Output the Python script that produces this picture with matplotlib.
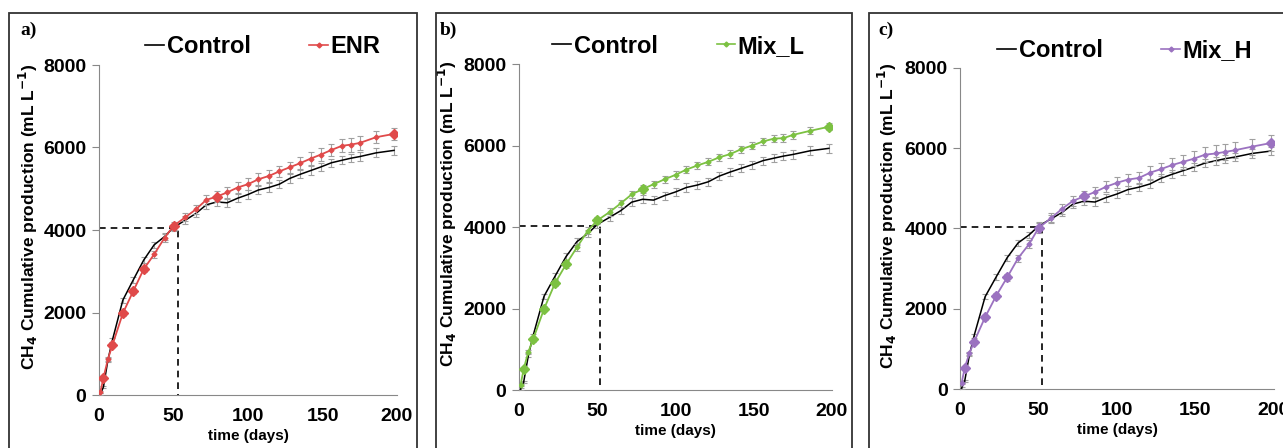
import matplotlib.pyplot as plt
from matplotlib.lines import Line2D
from matplotlib.patches import Rectangle

plt.rcParams["font.family"] = ["Liberation Sans", "DejaVu Sans"]
plt.rcParams["font.weight"] = "bold"

# sampling days (same for all series)
days = [1, 3, 6, 9, 16, 23, 30, 37, 44, 50, 58, 65, 72, 79, 86, 93, 100, 107,
        114, 121, 128, 135, 142, 149, 156, 163, 169, 175, 186, 198]

control = [20, 200, 850, 1330, 2300, 2790, 3270, 3640, 3840, 4060, 4240, 4400,
           4610, 4680, 4660, 4770, 4860, 4970, 5030, 5110, 5250, 5350, 5440,
           5530, 5630, 5690, 5740, 5780, 5870, 5930]
control_err = [20, 30, 40, 50, 60, 70, 80, 80, 80, 90, 90, 90, 100, 100, 100, 100,
               100, 100, 100, 100, 100, 100, 100, 100, 100, 100, 100, 100, 110, 110]

enr = [80, 420, 870, 1210, 1980, 2520, 3050, 3410, 3810, 4100, 4310, 4500, 4730,
       4810, 4910, 5030, 5110, 5230, 5310, 5420, 5520, 5620, 5730, 5830, 5940,
       6040, 6070, 6110, 6250, 6330]
enr_err = [20, 30, 40, 50, 60, 70, 80, 80, 90, 90, 100, 110, 120, 130, 130, 140,
           140, 140, 140, 140, 140, 140, 150, 150, 150, 160, 170, 170, 150, 140]

mix_l = [120, 520, 940, 1240, 1990, 2620, 3080, 3500, 3910, 4160, 4370, 4580,
         4800, 4930, 5050, 5170, 5280, 5410, 5510, 5600, 5710, 5790, 5910, 6000,
         6100, 6170, 6180, 6260, 6360, 6460]
mix_l_err = [20, 30, 40, 50, 60, 70, 80, 80, 80, 90, 90, 90, 90, 90, 90, 90, 90,
             90, 90, 90, 90, 90, 90, 90, 90, 90, 90, 90, 90, 90]

mix_h = [140, 530, 890, 1180, 1790, 2320, 2780, 3260, 3610, 4010, 4260, 4490,
         4690, 4800, 4910, 5040, 5140, 5220, 5260, 5390, 5480, 5580, 5660, 5740,
         5840, 5870, 5910, 5950, 6040, 6130]
mix_h_err = [20, 30, 40, 50, 60, 70, 80, 90, 100, 120, 120, 120, 130, 130, 130,
             140, 140, 150, 150, 160, 160, 170, 180, 190, 190, 200, 200, 200, 200, 200]

panels = ["a)", "b)", "c)"]
treat_names = ["ENR", "Mix_L", "Mix_H"]
treat_vals = [enr, mix_l, mix_h]
treat_errs = [enr_err, mix_l_err, mix_h_err]
treat_colors = ["#e04a4a", "#7cc142", "#9b72c0"]
cross_day = [53, 52, 52]
cross_val = [4060, 4020, 4030]

# big markers in the original excel chart
big_idx = [1, 3, 4, 5, 6, 9, 13, 29]

W, H = 1283, 448
fig = plt.figure(figsize=(W / 100, H / 100), dpi=100)

axes_px = [(99, 397, 65, 395), (519, 832, 64, 390), (960, 1274, 68, 389)]
frames_px = [(9, 417), (436, 852), (869, 1300)]
label_px = [20, 440, 878]
legend_x = [0.55, 0.51, 0.525]
ylabel_x = [-0.197, -0.192, -0.195]

for i in range(3):
    l, r, t, b = axes_px[i]
    ax = fig.add_axes([l / W, (H - b) / H, (r - l) / W, (b - t) / H])

    fl, fr = frames_px[i]
    fig.patches.append(Rectangle((fl / W, -0.02), (fr - fl) / W, (H - 13) / H + 0.02,
                                 transform=fig.transFigure, fill=False,
                                 edgecolor="#333333", linewidth=1.3))
    fig.text(label_px[i] / W, (H - 30) / H, panels[i], fontsize=14,
             fontweight="bold", family="Liberation Serif", va="center")

    ax.errorbar(days, control, yerr=control_err, color="black", lw=1.1,
                ecolor="#a0a0a0", elinewidth=0.8, capsize=2.5, capthick=0.8, zorder=3)

    c = treat_colors[i]
    ax.errorbar(days, treat_vals[i], yerr=treat_errs[i], color=c, lw=1.3,
                marker="D", markersize=2.5, ecolor="#a0a0a0", elinewidth=0.8,
                capsize=2.5, capthick=0.8, zorder=4)
    ax.plot([days[k] for k in big_idx], [treat_vals[i][k] for k in big_idx],
            "D", color=c, markersize=5, zorder=5)

    xc, yc = cross_day[i], cross_val[i]
    ax.plot([0, xc, xc], [yc, yc, 0], color="black", lw=1.2, ls=(0, (4, 3)), zorder=2)

    ax.set_xlim(0, 200)
    ax.set_ylim(0, 8000)
    ax.set_xticks([0, 50, 100, 150, 200])
    ax.set_yticks([0, 2000, 4000, 6000, 8000])
    for s in ["top", "right"]:
        ax.spines[s].set_visible(False)
    for s in ["left", "bottom"]:
        ax.spines[s].set_color("#888888")
    ax.tick_params(axis="y", length=5, color="#888888", labelsize=14, pad=4)
    ax.tick_params(axis="x", length=0, labelsize=14, pad=9)
    for lab in ax.get_xticklabels() + ax.get_yticklabels():
        lab.set_fontweight("bold")

    ax.set_xlabel("time (days)", fontsize=11, fontweight="bold", labelpad=3)
    ax.set_ylabel("CH$_\\mathbf{4}$ Cumulative production (mL L$^\\mathbf{-1}$)",
                  fontsize=12.5, fontweight="bold")
    ax.yaxis.set_label_coords(ylabel_x[i], 0.54)

    handles = [Line2D([], [], color="black", lw=1.2),
               Line2D([], [], color=c, lw=1.2, marker="D", markersize=2.5)]
    ax.legend(handles, ["Control", treat_names[i]], ncol=2, frameon=False,
              loc="center", bbox_to_anchor=(legend_x[i], 1.055),
              handlelength=0.8, handletextpad=0.1, columnspacing=2.5,
              borderpad=0, prop={"weight": "bold", "size": 17})

fig.savefig("out.png", dpi=100)
